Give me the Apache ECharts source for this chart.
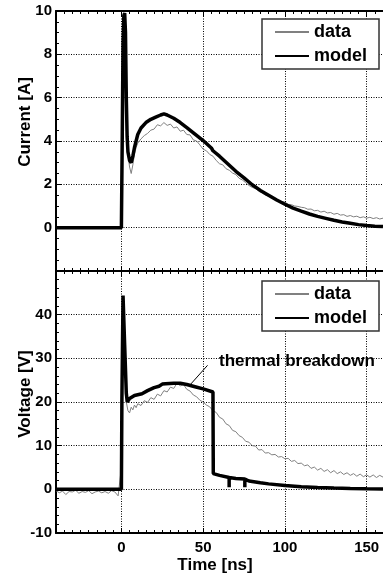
<!DOCTYPE html>
<html>
<head>
<meta charset="utf-8">
<script src="https://cdn.jsdelivr.net/npm/echarts@6/dist/echarts.min.js"></script>
<style>
html, body { margin: 0; padding: 0; background: #fff; }
#main { width: 383px; height: 578px; }
</style>
</head>
<body>
<div id="main"></div>
<script>
// measured trace, time axis in ns
var dataT = [-40, -38, -36, -34, -32, -30, -28, -26, -24, -22, -20, -18, -16, -14, -12, -10, -8, -6, -4, -2,
	0, 0.5, 1, 1.5, 2, 2.5, 3, 4, 5, 6, 7, 8, 9, 10,
	12, 14, 16, 18, 20, 22, 24, 26, 28, 30, 32, 34, 36, 38, 40, 42, 44, 46, 48, 50,
	52, 54, 56, 58, 60, 62, 64, 66, 68, 70, 72, 74, 76, 78, 80, 82, 84, 86, 88, 90,
	92, 94, 96, 98, 100, 102, 104, 106, 108, 110, 112, 114, 116, 118, 120, 122, 124, 126, 128, 130,
	132, 134, 136, 138, 140, 142, 144, 146, 148, 150, 152, 154, 156, 158, 160];
var curData = [0.02, -0.03, 0.01, 0.04, -0.02, 0.0, 0.03, -0.04, 0.01, 0.02, -0.01, 0.03, -0.02, 0.0, 0.02, -0.03, 0.01, 0.03, -0.02, 0.0,
	0.1, 3.0, 7.5, 9.6, 9.7, 8.5, 5.5, 3.4, 2.8, 2.5, 2.9, 3.4, 3.7, 3.9,
	4.1, 4.25, 4.35, 4.5, 4.55, 4.75, 4.7, 4.85, 4.72, 4.78,
	4.6, 4.65, 4.45, 4.5, 4.3, 4.28, 4.05, 4.0, 3.82, 3.62,
	3.55, 3.38, 3.3, 3.1, 2.95, 2.9, 2.72, 2.65, 2.52, 2.45,
	2.28, 2.2, 2.08, 1.95, 1.86, 1.8, 1.68, 1.62, 1.5, 1.46,
	1.38, 1.33, 1.22, 1.2, 1.18, 1.08, 1.06, 1.0, 0.98, 0.94,
	0.92, 0.85, 0.86, 0.78, 0.8, 0.72, 0.76, 0.68, 0.7, 0.62,
	0.66, 0.58, 0.6, 0.52, 0.56, 0.5, 0.53, 0.46, 0.5, 0.44,
	0.48, 0.42, 0.46, 0.4, 0.44];
var voltData = [-0.3, -0.8, -0.4, -1.2, -0.5, -0.6, -0.2, -0.9, -0.5, -0.7, -0.3, -1.0, -0.6, -0.4, -0.8, -0.5, -0.9, -0.3, -0.6, -1.5,
	5, 30, 44, 40, 32, 25, 20, 18, 17.5, 18.8, 18.2, 19.3, 18.7, 19.6,
	19.2, 20.3, 19.9, 21.0, 20.6, 21.8, 21.4, 22.6, 22.3, 23.4,
	23.1, 24.3, 23.7, 24.0, 22.9, 22.5, 21.6, 21.2, 20.4, 20.0,
	19.3, 18.9, 18.0, 17.6, 16.5, 16.1, 15.0, 14.6, 13.5, 13.2,
	12.3, 11.9, 11.0, 10.8, 10.0, 9.9, 9.0, 9.1, 8.3, 8.4,
	7.9, 8.0, 7.4, 7.5, 7.0, 7.1, 6.4, 6.6, 5.9, 6.0,
	5.4, 5.6, 4.8, 5.1, 4.4, 4.8, 4.1, 4.5, 3.8, 4.3,
	3.6, 4.0, 3.4, 3.8, 3.2, 3.6, 3.0, 3.5, 2.9, 3.3,
	2.8, 3.3, 2.7, 3.2, 2.8];

// model curves
var curModelT = [-40, 0, 0.5, 1, 1.5, 2, 2.5, 3, 3.5, 4, 5, 6, 7, 8, 10, 12, 15, 18, 21, 24,
	26, 28, 32, 36, 40, 45, 50, 55, 56, 57, 60, 65, 70, 75, 80, 85, 90, 95, 100, 105,
	110, 115, 120, 125, 130, 135, 140, 145, 150, 155, 160];
var curModel = [0, 0, 4, 8.5, 9.8, 9.9, 9.0, 6.0, 4.2, 3.5, 3.1, 3.0, 3.3, 3.7, 4.3, 4.6, 4.85, 5.0, 5.1, 5.2,
	5.25, 5.2, 5.05, 4.85, 4.62, 4.32, 4.02, 3.68, 3.55, 3.55, 3.3, 2.95, 2.6, 2.3, 1.98, 1.72, 1.5, 1.28, 1.08, 0.9,
	0.76, 0.63, 0.52, 0.43, 0.34, 0.26, 0.2, 0.14, 0.1, 0.07, 0.05];
var voltModelT = [-40, 0, 0.3, 1, 2, 3, 3.6, 5, 8, 12.6, 16, 20, 23, 25, 27, 32, 36, 40, 45, 50,
	56, 56.2, 60, 65.9, 65.9, 65.9, 70, 75.5, 75.5, 75.5, 78, 85, 90, 100, 110, 120, 130, 140, 150, 160];
var voltModel = [0, 0, 20, 44.4, 33, 22, 20, 20.8, 21.5, 21.9, 22.6, 23.3, 23.6, 24.1, 24.2, 24.3, 24.3, 24.0, 23.5, 23.0,
	22.3, 3.6, 3.2, 2.7, 0.5, 2.7, 2.5, 2.35, 0.5, 2.35, 1.9, 1.5, 1.25, 0.9, 0.6, 0.4, 0.28, 0.18, 0.12, 0.08];

var legendNames = ['data', 'model'];
var xLabels = [0, 50, 100, 150];
var breakdownLine = [[41.7, 23.8], [52.7, 28.4]];

var FONT = '"Liberation Sans", Arial, sans-serif';

function pairs(t, v) {
	var arr = [];
	for (var i = 0; i < t.length; i++) {
		arr.push([t[i], v[i]]);
	}
	return arr;
}

function xAxisCfg(grid, pos, labels) {
	return {
		type: 'value',
		gridIndex: grid,
		position: pos,
		min: -40,
		max: 160,
		splitNumber: 4,
		axisLine: { show: true, onZero: false, lineStyle: { color: '#000', width: 2 } },
		axisTick: { show: true, inside: true, length: 5, lineStyle: { color: '#000', width: 1 } },
		minorTick: { show: true, splitNumber: 10, length: 3, lineStyle: { color: '#000', width: 1 } },
		axisLabel: {
			show: labels,
			margin: 7,
			color: '#000',
			fontFamily: FONT,
			fontWeight: 'bold',
			fontSize: 15,
			showMinLabel: false,
			showMaxLabel: false,
			formatter: function(v) {
				return xLabels.indexOf(v) >= 0 ? String(v) : '';
			}
		},
		splitLine: { show: pos === 'bottom', lineStyle: { color: '#000', width: 1, type: [1, 1.5] } }
	};
}

function yAxisCfg(grid, min, max, step, minor, hide) {
	return {
		type: 'value',
		gridIndex: grid,
		min: min,
		max: max,
		interval: step,
		axisLine: { show: true, onZero: false, lineStyle: { color: '#000', width: 2 } },
		axisTick: { show: true, inside: true, length: 5, lineStyle: { color: '#000', width: 1 } },
		minorTick: { show: true, splitNumber: minor, length: 3, lineStyle: { color: '#000', width: 1 } },
		axisLabel: {
			margin: 4,
			color: '#000',
			fontFamily: FONT,
			fontWeight: 'bold',
			fontSize: 15,
			formatter: function(v) {
				return v === hide ? '' : String(v);
			}
		},
		splitLine: { show: true, lineStyle: { color: '#000', width: 1, type: [1, 1.5] } }
	};
}

function legendCfg(top) {
	return {
		orient: 'vertical',
		left: 262,
		top: top,
		padding: [4, 12, 4, 12],
		itemGap: 6,
		itemWidth: 34,
		itemHeight: 18,
		backgroundColor: '#fff',
		borderColor: '#333',
		borderWidth: 1.5,
		selectedMode: false,
		// line only, no marker in the key
		itemStyle: { opacity: 0 },
		textStyle: { color: '#000', fontFamily: FONT, fontWeight: 'bold', fontSize: 18 },
		data: legendNames
	};
}

var myChart = echarts.init(document.getElementById('main'));

var option = {
	animation: false,
	backgroundColor: '#fff',
	grid: [
		{ left: 56, right: -6, top: 11, height: 260 },
		{ left: 56, right: -6, top: 271, height: 262 }
	],
	xAxis: [
		xAxisCfg(0, 'bottom', false),
		xAxisCfg(0, 'top', false),
		xAxisCfg(1, 'bottom', true),
		xAxisCfg(1, 'top', false)
	],
	yAxis: [
		yAxisCfg(0, -2, 10, 2, 4, -2),
		yAxisCfg(1, -10, 50, 10, 5, 50)
	],
	legend: [legendCfg(19), legendCfg(281)],
	graphic: [
		{ type: 'text', x: 25, y: 122, rotation: Math.PI / 2,
			style: { text: 'Current [A]', fill: '#000', font: 'bold 17px ' + FONT, textAlign: 'center', textVerticalAlign: 'middle' } },
		{ type: 'text', x: 25, y: 394, rotation: Math.PI / 2,
			style: { text: 'Voltage [V]', fill: '#000', font: 'bold 17px ' + FONT, textAlign: 'center', textVerticalAlign: 'middle' } },
		{ type: 'text', x: 215, y: 565,
			style: { text: 'Time [ns]', fill: '#000', font: 'bold 17px ' + FONT, textAlign: 'center', textVerticalAlign: 'middle' } },
		{ type: 'text', x: 219, y: 361, z: 10,
			style: { text: 'thermal breakdown', fill: '#000', font: 'bold 17px ' + FONT, textAlign: 'left', textVerticalAlign: 'middle' } }
	],
	series: [
		{
			name: 'data', type: 'line', xAxisIndex: 0, yAxisIndex: 0,
			symbol: 'none', data: pairs(dataT, curData),
			lineStyle: { color: '#808080', width: 1 }, itemStyle: { color: '#8a9c9c' }
		},
		{
			name: 'model', type: 'line', xAxisIndex: 0, yAxisIndex: 0,
			symbol: 'none', data: pairs(curModelT, curModel),
			lineStyle: { color: '#000', width: 3.5 }, itemStyle: { color: '#000' }
		},
		{
			name: 'data', type: 'line', xAxisIndex: 2, yAxisIndex: 1,
			symbol: 'none', data: pairs(dataT, voltData),
			lineStyle: { color: '#808080', width: 1 }, itemStyle: { color: '#8a9c9c' }
		},
		{
			name: 'model', type: 'line', xAxisIndex: 2, yAxisIndex: 1,
			symbol: 'none', data: pairs(voltModelT, voltModel),
			lineStyle: { color: '#000', width: 3.5 }, itemStyle: { color: '#000' },
			markLine: {
				silent: true,
				symbol: ['none', 'none'],
				label: { show: false },
				lineStyle: { color: '#000', width: 1, type: 'solid' },
				data: [[{ coord: breakdownLine[0] }, { coord: breakdownLine[1] }]]
			}
		}
	]
};

myChart.setOption(option);
</script>
</body>
</html>
